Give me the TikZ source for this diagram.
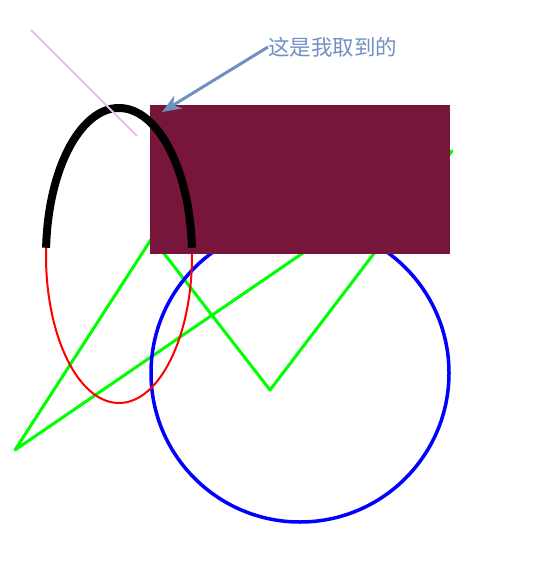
\documentclass[tikz,border=0pt]{standalone}
\usepackage{fontspec}
\newfontfamily\cjkfont{Noto Sans CJK SC}
\usetikzlibrary{arrows.meta,calc}
\definecolor{maroonbox}{RGB}{120,21,58}
\definecolor{arrowblue}{RGB}{112,144,194}
\definecolor{pinkline}{RGB}{236,190,236}
\tikzset{
  greenline/.style={draw={rgb,255:red,0;green,255;blue,0},line width=3pt,line join=round},
  blueline/.style={draw={rgb,255:red,0;green,0;blue,255},line width=3.5pt},
  redline/.style={draw={rgb,255:red,255;green,0;blue,0},line width=2pt},
  blackarc/.style={draw=black,line width=8pt},
  pinkstroke/.style={draw=pinkline,line width=2pt},
  callout/.style={draw=arrowblue,line width=3pt,-{Stealth[length=19pt,width=15pt,inset=6pt]}},
  labeltext/.style={text=arrowblue,font=\cjkfont\fontsize{21.5pt}{24pt}\selectfont,inner sep=0pt,anchor=west}
}
\begin{document}
\begin{tikzpicture}[x=1pt,y=1pt]
\useasboundingbox (0,0) rectangle (533,-575);
% green polygon
\coordinate (g1) at (152,-238);
\coordinate (g2) at (270,-390);
\coordinate (g3) at (452,-151);
\coordinate (g4) at (15,-450);
\draw[greenline] (g1) -- (g2) -- (g3) -- (g4) -- cycle;
% blue circle
\coordinate (cc) at (300,-373);
\draw[blueline] (cc) circle[radius=149];
% red ellipse
\coordinate (ec) at (119,-255.5);
\draw[redline] (ec) ellipse[x radius=73,y radius=147.5];
% rectangle
\fill[maroonbox] (150,-105) rectangle (450,-254);
% black arc on top of ellipse
\draw[blackarc] ($(ec)+(177:73 and 147.5)$) arc[start angle=177,end angle=3,x radius=73,y radius=147.5];
% pink line
\coordinate (p1) at (31,-30);
\coordinate (p2) at (137,-136);
\draw[pinkstroke] (p1) -- (p2);
% label and arrow
\node[labeltext] (lbl) at (268,-47) {这是我取到的};
\coordinate (tip) at (162,-112);
\draw[callout] (lbl.west) -- (tip);
\end{tikzpicture}
\end{document}
